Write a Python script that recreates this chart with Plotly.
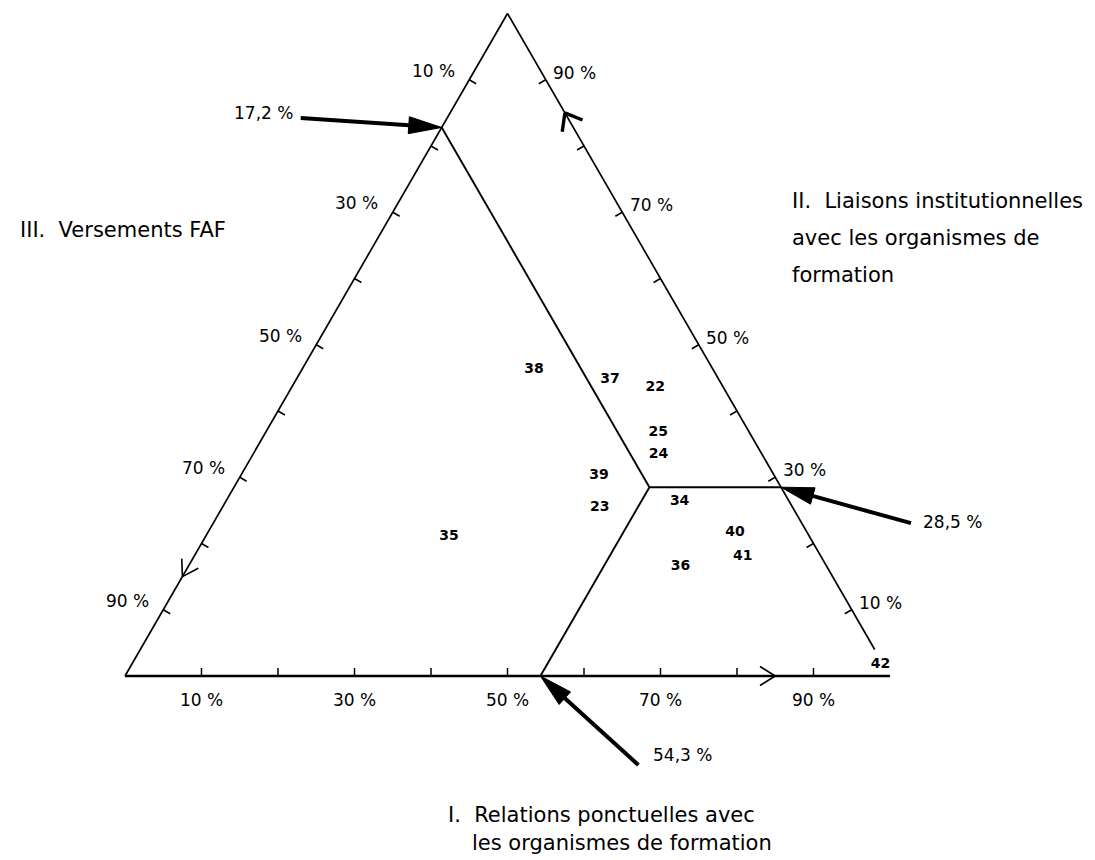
import math
import plotly.graph_objects as go

# ---------------- data ----------------
sectors = ["22", "23", "24", "25", "34", "35", "36", "37", "38", "39", "40", "41", "42"]
# I. Relations ponctuelles avec les organismes de formation (%)
rel_ponctuelles = [47.5, 49.3, 53.0, 51.3, 59.3, 31.8, 64.3, 41.0, 30.3, 46.8, 68.9, 71.7, 97.9]
# II. Liaisons institutionnelles avec les organismes de formation (%)
liaisons_inst = [43.6, 25.5, 33.5, 36.8, 26.4, 21.1, 16.6, 44.8, 46.3, 30.3, 21.7, 18.1, 1.7]
# III. Versements FAF (%)
versements_faf = [round(100 - a - b, 1) for a, b in zip(rel_ponctuelles, liaisons_inst)]

mean_I, mean_II, mean_III = 54.3, 28.5, 17.2
mean_text = {"I": "54,3 %", "II": "28,5 %", "III": "17,2 %"}

tick_vals = [10, 20, 30, 40, 50, 60, 70, 80, 90]
tick_labels = {10: "10 %", 30: "30 %", 50: "50 %", 70: "70 %", 90: "90 %"}
arrow_at = 85  # position of the direction chevron on each axis

title_I = ["I.  Relations ponctuelles avec", "les organismes de formation"]
title_II = ["II.  Liaisons institutionnelles", "avec les organismes de", "formation"]
title_III = ["III.  Versements FAF"]

# ---------------- geometry helpers ----------------
W, H = 1095, 860
PX = 7.65            # pixels per percent unit
X0, Y0 = 117, 668    # pixel position of the III vertex (bottom-left)
S3 = math.sqrt(3) / 2
FONT = "DejaVu Sans"


def tern(i, ii):
    """ternary (I, II) -> cartesian (III = 100 - I - II)"""
    return i + ii / 2.0, ii * S3


def bottom(v):   # I axis, II = 0
    return tern(v, 0)


def right(v):    # II axis, III = 0
    return tern(100 - v, v)


def left(v):     # III axis, I = 0
    return tern(0, 100 - v)


def px(d):       # pixel length -> data units
    return d / PX


fig = go.Figure()


def seg_trace(segs, width, color="black"):
    xs, ys = [], []
    for (a, b) in segs:
        xs += [a[0], b[0], None]
        ys += [a[1], b[1], None]
    fig.add_trace(go.Scatter(x=xs, y=ys, mode="lines",
                             line=dict(color=color, width=width),
                             hoverinfo="skip", showlegend=False))


# triangle
seg_trace([(left(100), left(0))], 1.7)
seg_trace([(right(100), right(4))], 1.7)
seg_trace([(bottom(0), bottom(100))], 2.3)

# ticks (perpendicular, pointing inward)
tl = px(8)
n_bottom = (0, 1)
n_left = (S3, -0.5)
n_right = (-S3, -0.5)
ticks = []
for v in tick_vals:
    for p, n in ((bottom(v), n_bottom), (left(v), n_left), (right(v), n_right)):
        ticks.append((p, (p[0] + n[0] * tl, p[1] + n[1] * tl)))
seg_trace(ticks, 1.5)


# direction chevrons
def chevron(tip, d, length=px(18), ang=32):
    bx, by = -d[0], -d[1]
    out = []
    for s in (1, -1):
        a = math.radians(ang * s)
        rx = bx * math.cos(a) - by * math.sin(a)
        ry = bx * math.sin(a) + by * math.cos(a)
        out.append((tip, (tip[0] + rx * length, tip[1] + ry * length)))
    return out


seg_trace(chevron(bottom(arrow_at), (1, 0)), 1.6)
seg_trace(chevron(left(arrow_at), (-0.5, -S3)), 1.6)
seg_trace(chevron(right(arrow_at), (-0.5, S3), length=px(19), ang=38), 3.4)

# mean lines
centre = tern(mean_I, mean_II)
seg_trace([(bottom(mean_I), centre),
           (centre, right(mean_II)),
           (centre, left(mean_III))], 1.9)

# sector labels
pts = [tern(a, b) for a, b in zip(rel_ponctuelles, liaisons_inst)]
fig.add_trace(go.Scatter(
    x=[p[0] for p in pts], y=[p[1] for p in pts], mode="text",
    text=sectors, textposition="middle center",
    textfont=dict(family=FONT, size=14, color="black", weight="bold"),
    customdata=list(zip(rel_ponctuelles, liaisons_inst, versements_faf)),
    hovertemplate="Secteur %{text}<br>I: %{customdata[0]}%<br>II: %{customdata[1]}%<br>III: %{customdata[2]}%<extra></extra>",
    showlegend=False))


# bold arrows pointing at the mean values
def bold_arrow(tip, tail_off, head_len=33, head_half=8.5, width=4):
    tail = (tip[0] + px(tail_off[0]), tip[1] - px(tail_off[1]))
    dx, dy = tip[0] - tail[0], tip[1] - tail[1]
    L = math.hypot(dx, dy)
    ux, uy = dx / L, dy / L
    base = (tip[0] - ux * px(head_len), tip[1] - uy * px(head_len))
    seg_trace([(tail, (base[0] + ux * px(4), base[1] + uy * px(4)))], width)
    nx, ny = -uy, ux
    hx = [tip[0], base[0] + nx * px(head_half), base[0] - nx * px(head_half), tip[0]]
    hy = [tip[1], base[1] + ny * px(head_half), base[1] - ny * px(head_half), tip[1]]
    fig.add_trace(go.Scatter(x=hx, y=hy, mode="lines", fill="toself",
                             fillcolor="black", line=dict(color="black", width=1),
                             hoverinfo="skip", showlegend=False))
    return tail


annotations = []


def text_at(pt, txt, xs=0, ys=0, xanchor="center", size=17):
    annotations.append(dict(x=pt[0], y=pt[1], xref="x", yref="y", text=txt,
                            showarrow=False, xshift=xs, yshift=ys,
                            xanchor=xanchor, yanchor="middle",
                            font=dict(family=FONT, size=size, color="black")))


t3 = bold_arrow(left(mean_III), (-141, -9.5))
text_at(t3, mean_text["III"], xs=-6, ys=5, xanchor="right")
t2 = bold_arrow(right(mean_II), (130, 36))
text_at(t2, mean_text["II"], xs=10, ys=1, xanchor="left")
t1 = bold_arrow(bottom(mean_I), (98, 89))
text_at(t1, mean_text["I"], xs=13, ys=10, xanchor="left")

# tick labels
for v, lab in tick_labels.items():
    text_at(bottom(v), lab, xs=0, ys=-24)
    text_at(left(v), lab, xs=-36, ys=9)
    text_at(right(v), lab, xs=29, ys=7)


# axis titles (paper coordinates, one annotation per line)
def title_lines(lines, x_px, y_px, step, indent=0):
    for k, line in enumerate(lines):
        annotations.append(dict(
            x=(x_px + (indent if k else 0)) / W, y=1 - (y_px + k * step) / H,
            xref="paper", yref="paper", text=line, showarrow=False,
            xanchor="left", yanchor="middle",
            font=dict(family=FONT, size=21, color="black")))


title_lines(title_III, 10, 222, 0)
title_lines(title_II, 782, 193, 37)
title_lines(title_I, 438, 807, 28, indent=24)

fig.update_layout(
    width=W, height=H,
    margin=dict(l=0, r=0, t=0, b=0),
    paper_bgcolor="white", plot_bgcolor="white",
    showlegend=False,
    xaxis=dict(visible=False, range=[-X0 / PX, (W - X0) / PX], fixedrange=True),
    yaxis=dict(visible=False, range=[-(H - Y0) / PX, Y0 / PX], fixedrange=True),
    annotations=annotations,
)

fig.write_html("out.html")
